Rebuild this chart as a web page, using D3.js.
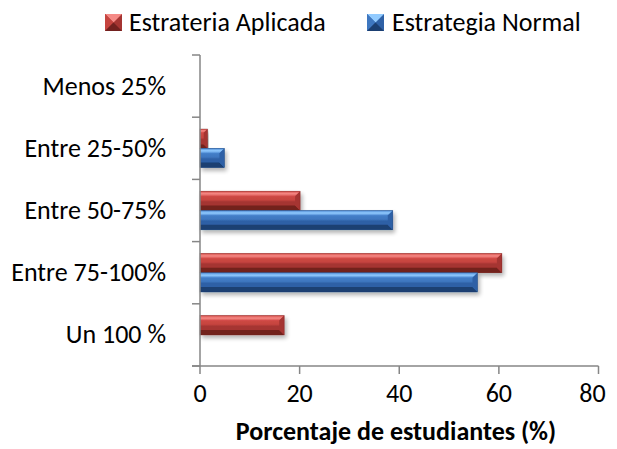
<!DOCTYPE html>
<html>
<head>
<meta charset="utf-8">
<script src="https://cdn.jsdelivr.net/npm/d3@7"></script>
<style>
  body { margin: 0; background: #fff; }
  svg text { font-family: Calibri, Carlito, Lato, "Open Sans", sans-serif; fill: #000; }
</style>
</head>
<body>
<svg id="chart" width="617" height="449"></svg>
<script>
// data
var categories = ['Menos 25%', 'Entre 25-50%', 'Entre 50-75%', 'Entre 75-100%', 'Un 100 %'];
var aplicada = [0, 1.5, 20.1, 60.6, 16.9];
var normal = [0, 4.9, 38.7, 55.7, 0];
var xTicks = [0, 20, 40, 60, 80];
var seriesNames = ['Estrateria Aplicada', 'Estrategia Normal'];

var palette = {
  red: { hi: '#f58a86', top: '#d64e4a', face: '#c6443f', mid: '#a53532', lo: '#72211f' },
  blue: { hi: '#92cbff', top: '#4b88d2', face: '#3e77c0', mid: '#2f61a6', lo: '#1b3f72' }
};

var svg = d3.select('#chart');

var x = d3.scaleLinear().domain([0, 80]).range([200, 598.5]);
var y = d3.scaleBand().domain(categories).range([55, 366]).paddingInner(0.38).paddingOuter(0.19);
var sub = d3.scaleBand().domain(['a', 'n']).range([0, y.bandwidth()]);

// gradients
var defs = svg.append('defs');
Object.keys(palette).forEach(function (k) {
  var p = palette[k];
  var g = defs.append('linearGradient').attr('id', 'face-' + k)
    .attr('x1', 0).attr('y1', 0).attr('x2', 0).attr('y2', 1);
  g.append('stop').attr('offset', '0%').attr('stop-color', p.top);
  g.append('stop').attr('offset', '45%').attr('stop-color', p.face);
  g.append('stop').attr('offset', '55%').attr('stop-color', p.mid);
  g.append('stop').attr('offset', '100%').attr('stop-color', p.mid);
  var t = defs.append('linearGradient').attr('id', 'top-' + k)
    .attr('x1', 0).attr('y1', 0).attr('x2', 0).attr('y2', 1);
  t.append('stop').attr('offset', '0%').attr('stop-color', p.top);
  t.append('stop').attr('offset', '50%').attr('stop-color', p.hi);
  t.append('stop').attr('offset', '100%').attr('stop-color', p.top);
});
var f = defs.append('filter').attr('id', 'shadow').attr('x', '-10%').attr('y', '-30%').attr('width', '130%').attr('height', '180%');
f.append('feGaussianBlur').attr('in', 'SourceAlpha').attr('stdDeviation', 2);
f.append('feOffset').attr('dx', 2).attr('dy', 3).attr('result', 'b');
f.append('feComponentTransfer').append('feFuncA').attr('type', 'linear').attr('slope', 0.3);
var mg = f.append('feMerge');
mg.append('feMergeNode');
mg.append('feMergeNode').attr('in', 'SourceGraphic');

function drawBar(g, v, y0, h, col) {
  if (!v) return;
  var x0 = x(0), x1 = x(v), b = Math.min(5, (x1 - x0) / 2, h / 3);
  var p = palette[col];
  var bar = g.append('g').attr('filter', 'url(#shadow)');
  bar.append('rect').attr('x', x0).attr('y', y0).attr('width', x1 - x0).attr('height', h)
    .attr('fill', 'url(#face-' + col + ')');
  // top bevel
  bar.append('polygon').attr('points', [[x0, y0], [x1, y0], [x1 - b, y0 + b], [x0, y0 + b]].join(' '))
    .attr('fill', 'url(#top-' + col + ')');
  // bottom bevel
  bar.append('polygon').attr('points', [[x0, y0 + h], [x1, y0 + h], [x1 - b, y0 + h - b], [x0, y0 + h - b]].join(' '))
    .attr('fill', p.lo);
  // right end bevel
  bar.append('polygon').attr('points', [[x1, y0], [x1, y0 + h], [x1 - b, y0 + h - b], [x1 - b, y0 + b]].join(' '))
    .attr('fill', p.mid);
  bar.append('rect').attr('x', x0).attr('y', y0).attr('width', x1 - x0).attr('height', h)
    .attr('fill', 'none').attr('stroke', p.lo).attr('stroke-width', 0.6).attr('opacity', 0.6);
}

var bars = svg.append('g');
categories.forEach(function (c, i) {
  drawBar(bars, aplicada[i], y(c) + sub('a'), sub.bandwidth(), 'red');
  drawBar(bars, normal[i], y(c) + sub('n'), sub.bandwidth(), 'blue');
});

// axes
var axisColor = '#868686';
var ax = svg.append('g');
ax.append('line').attr('x1', 200).attr('x2', 200).attr('y1', 55).attr('y2', 366)
  .attr('stroke', axisColor).attr('stroke-width', 1.5);
ax.append('line').attr('x1', 192).attr('x2', x(80)).attr('y1', 366).attr('y2', 366)
  .attr('stroke', axisColor).attr('stroke-width', 1.5);
d3.range(categories.length + 1).forEach(function (i) {
  var yy = 55 + i * (311 / categories.length);
  ax.append('line').attr('x1', 192).attr('x2', 200).attr('y1', yy).attr('y2', yy)
    .attr('stroke', axisColor).attr('stroke-width', 1.5);
});
xTicks.forEach(function (t, i) {
  ax.append('line').attr('x1', x(t)).attr('x2', x(t)).attr('y1', 366).attr('y2', 374)
    .attr('stroke', axisColor).attr('stroke-width', 1.5);
  ax.append('text').attr('x', x(t)).attr('dx', i === xTicks.length - 1 ? -6 : 0)
    .attr('y', 402).attr('text-anchor', 'middle')
    .attr('font-size', 26).text(t);
});
categories.forEach(function (c) {
  ax.append('text').attr('x', 166).attr('y', y(c) + y.bandwidth() / 2 + 8.5)
    .attr('text-anchor', 'end').attr('font-size', 26).text(c);
});
svg.append('text').attr('x', 396).attr('y', 440).attr('text-anchor', 'middle')
  .attr('font-size', 26).attr('font-weight', 'bold').text('Porcentaje de estudiantes (%)');

// legend
var leg = svg.append('g');
[['red', 105, 129], ['blue', 367, 392]].forEach(function (d, i) {
  var p = palette[d[0]];
  var s = 17, lx = d[1], ly = 14;
  leg.append('rect').attr('x', lx).attr('y', ly).attr('width', s).attr('height', s).attr('fill', p.mid);
  leg.append('polygon').attr('points', [[lx, ly], [lx + s, ly], [lx + s / 2, ly + s / 2]].join(' ')).attr('fill', p.hi);
  leg.append('polygon').attr('points', [[lx, ly], [lx, ly + s], [lx + s / 2, ly + s / 2]].join(' ')).attr('fill', p.face);
  leg.append('polygon').attr('points', [[lx, ly + s], [lx + s, ly + s], [lx + s / 2, ly + s / 2]].join(' ')).attr('fill', p.lo);
  leg.append('text').attr('x', d[2]).attr('y', 31).attr('font-size', 26).text(seriesNames[i]);
});
</script>
</body>
</html>
